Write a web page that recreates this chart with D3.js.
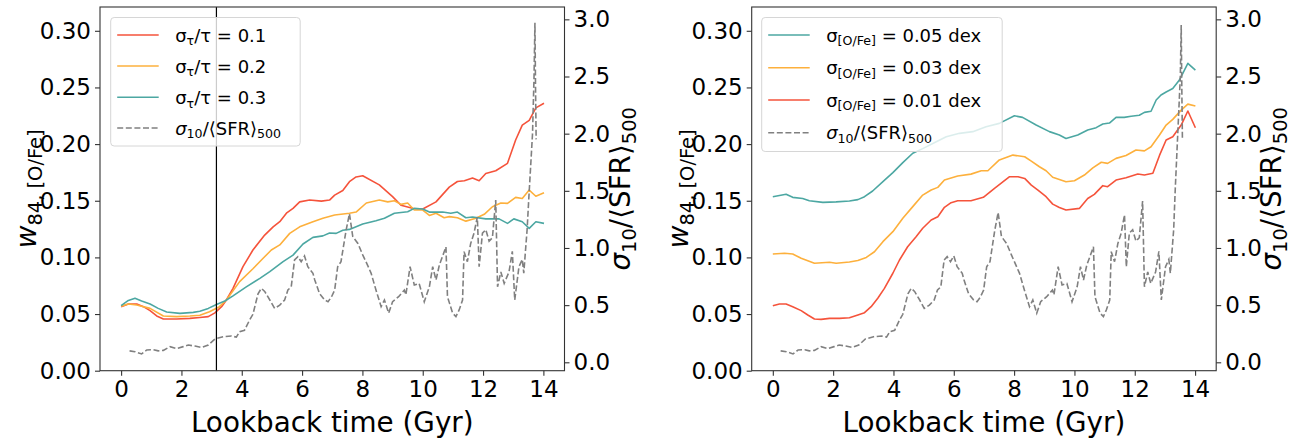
<!DOCTYPE html>
<html>
<head>
<meta charset="utf-8">
<script src="https://cdn.jsdelivr.net/npm/d3@7"></script>
<style>
  body { margin: 0; background: #fff; }
  svg { font-family: "DejaVu Sans", sans-serif; }
</style>
</head>
<body>
<div id="chart"></div>
<script>
// [lookback time (Gyr), w84 [O/Fe]]
var tau01 = [[0,0.0565],[0.24,0.0588],[0.52,0.0588],[0.74,0.0565],[0.96,0.053],[1.18,0.0483],[1.4,0.0456],[1.84,0.0456],[2.28,0.0462],[2.61,0.047],[2.89,0.0477],[3.11,0.051],[3.33,0.0565],[3.49,0.0624],[3.71,0.0727],[4.04,0.0918],[4.37,0.1065],[4.76,0.1197],[5.04,0.127],[5.26,0.1315],[5.48,0.139],[5.7,0.1433],[5.92,0.149],[6.25,0.1506],[6.64,0.1497],[6.91,0.1506],[7.08,0.155],[7.35,0.159],[7.57,0.1668],[7.79,0.171],[8.01,0.172],[8.56,0.164],[9.0,0.1536],[9.28,0.146],[9.72,0.143],[10.0,0.1427],[10.44,0.149],[10.88,0.162],[11.15,0.167],[11.38,0.1677],[11.65,0.17],[11.87,0.1677],[12.09,0.174],[12.42,0.1765],[12.81,0.183],[13.08,0.2036],[13.3,0.2168],[13.53,0.221],[13.75,0.232],[14.02,0.236]];
var tau02 = [[0,0.057],[0.24,0.0588],[0.52,0.058],[0.96,0.055],[1.4,0.0483],[1.84,0.0477],[2.28,0.0483],[2.61,0.049],[2.93,0.052],[3.26,0.0565],[3.49,0.0624],[3.93,0.0786],[4.37,0.09],[4.7,0.099],[4.98,0.1065],[5.26,0.111],[5.59,0.1212],[5.92,0.127],[6.36,0.1315],[6.69,0.1345],[7.08,0.1374],[7.57,0.139],[7.79,0.14],[8.13,0.148],[8.56,0.1506],[8.84,0.149],[9.06,0.15],[9.28,0.1468],[9.5,0.148],[9.72,0.1418],[10.0,0.1418],[10.22,0.137],[10.44,0.139],[10.71,0.135],[10.88,0.136],[11.15,0.135],[11.43,0.132],[11.76,0.1345],[12.04,0.138],[12.31,0.1447],[12.59,0.148],[12.81,0.1477],[13.08,0.153],[13.3,0.152],[13.53,0.1594],[13.75,0.154],[14.02,0.157]];
var tau03 = [[0,0.0574],[0.24,0.062],[0.46,0.0639],[0.68,0.0615],[0.96,0.0588],[1.23,0.055],[1.51,0.0518],[1.95,0.0506],[2.39,0.0515],[2.61,0.0524],[2.89,0.055],[3.16,0.0585],[3.44,0.0615],[3.71,0.066],[4.15,0.074],[4.6,0.0815],[4.93,0.0874],[5.37,0.0962],[5.7,0.102],[6.03,0.1118],[6.36,0.1177],[6.69,0.119],[6.91,0.1215],[7.13,0.1212],[7.35,0.124],[7.57,0.1247],[8.01,0.1294],[8.45,0.1324],[8.73,0.1345],[9.06,0.139],[9.5,0.1403],[9.72,0.1433],[10.0,0.1427],[10.22,0.14],[10.66,0.14],[10.93,0.139],[11.15,0.14],[11.43,0.135],[11.65,0.1356],[12.09,0.134],[12.53,0.134],[12.81,0.13],[13.02,0.134],[13.3,0.1315],[13.53,0.1256],[13.75,0.1315],[14.02,0.13]];

var ofe005 = [[0,0.1536],[0.44,0.1557],[0.66,0.153],[0.99,0.152],[1.21,0.15],[1.66,0.1486],[2.1,0.149],[2.54,0.1498],[2.82,0.151],[3.04,0.1536],[3.31,0.1586],[3.65,0.1668],[3.98,0.1748],[4.31,0.1836],[4.64,0.1919],[4.97,0.196],[5.42,0.202],[5.75,0.2065],[6.19,0.2095],[6.63,0.211],[7.07,0.2153],[7.51,0.2183],[8.01,0.225],[8.28,0.2236],[8.73,0.2168],[9.17,0.211],[9.5,0.208],[9.72,0.205],[10.11,0.208],[10.44,0.2124],[10.72,0.2145],[10.94,0.2177],[11.16,0.2186],[11.38,0.2236],[11.65,0.2236],[11.88,0.2246],[12.15,0.2254],[12.32,0.228],[12.54,0.229],[12.71,0.2389],[12.87,0.2433],[13.04,0.246],[13.26,0.249],[13.48,0.2565],[13.76,0.2713],[14.01,0.2653]];
var ofe003 = [[0,0.103],[0.39,0.1036],[0.66,0.103],[0.94,0.0992],[1.38,0.0948],[1.88,0.0957],[2.1,0.0948],[2.54,0.096],[2.82,0.0972],[3.1,0.1],[3.37,0.105],[3.65,0.1139],[3.98,0.1227],[4.31,0.1345],[4.64,0.1448],[4.97,0.155],[5.25,0.1595],[5.47,0.1618],[5.69,0.1683],[6.13,0.1718],[6.57,0.1735],[6.91,0.1765],[7.13,0.1765],[7.51,0.186],[7.96,0.1903],[8.35,0.1888],[8.57,0.185],[8.84,0.18],[9.06,0.1765],[9.28,0.1707],[9.72,0.1668],[10.0,0.1677],[10.33,0.1727],[10.61,0.179],[10.89,0.184],[11.1,0.183],[11.38,0.1874],[11.71,0.19],[12.04,0.1948],[12.32,0.194],[12.54,0.1977],[12.82,0.208],[13.04,0.2168],[13.26,0.2218],[13.54,0.23],[13.76,0.2353],[14.01,0.2336]];
var ofe001 = [[0,0.0574],[0.22,0.0589],[0.44,0.0589],[0.66,0.0565],[0.94,0.053],[1.16,0.0492],[1.38,0.0456],[1.6,0.0453],[1.88,0.0462],[2.21,0.0462],[2.54,0.0468],[2.82,0.0492],[3.04,0.0512],[3.26,0.0565],[3.48,0.0639],[3.7,0.0727],[3.98,0.086],[4.2,0.0977],[4.47,0.1094],[4.75,0.1183],[4.97,0.1257],[5.25,0.133],[5.47,0.1359],[5.69,0.1442],[5.91,0.1483],[6.13,0.15],[6.57,0.15],[6.98,0.153],[7.35,0.161],[7.85,0.1712],[8.13,0.1712],[8.35,0.1697],[8.57,0.1638],[8.79,0.1594],[9.06,0.1536],[9.28,0.147],[9.5,0.144],[9.72,0.1418],[10.17,0.1433],[10.44,0.152],[10.66,0.1556],[10.94,0.1633],[11.1,0.1624],[11.38,0.1683],[11.71,0.1703],[12.1,0.1736],[12.32,0.1727],[12.6,0.1742],[12.82,0.19],[13.04,0.2036],[13.26,0.2065],[13.54,0.2168],[13.76,0.2292],[14.01,0.2144]];

// [lookback time (Gyr), sigma10/<SFR>500] (right axis)
var sfrLeft = [[0.28,0.1],[0.46,0.093],[0.68,0.073],[0.85,0.108],[1.07,0.11],[1.23,0.1],[1.4,0.104],[1.62,0.137],[1.84,0.12],[2.06,0.137],[2.23,0.151],[2.45,0.142],[2.67,0.13],[2.89,0.151],[3.11,0.204],[3.38,0.224],[3.66,0.23],[3.82,0.22],[3.93,0.268],[4.09,0.28],[4.26,0.37],[4.37,0.42],[4.54,0.6],[4.65,0.647],[4.76,0.62],[4.93,0.545],[5.09,0.472],[5.26,0.5],[5.42,0.545],[5.53,0.632],[5.64,0.66],[5.75,0.895],[5.86,0.924],[5.97,0.88],[6.08,0.93],[6.19,0.837],[6.36,0.778],[6.42,0.72],[6.58,0.6],[6.75,0.545],[6.86,0.53],[6.97,0.57],[7.08,0.632],[7.18,0.836],[7.29,0.88],[7.46,1.157],[7.57,1.3],[7.68,1.1],[7.85,1.04],[8.01,0.94],[8.17,0.85],[8.29,0.778],[8.45,0.632],[8.62,0.487],[8.73,0.545],[8.87,0.43],[9.0,0.53],[9.2,0.574],[9.39,0.632],[9.44,0.59],[9.58,0.836],[9.72,0.676],[9.88,0.69],[10.05,0.53],[10.22,0.66],[10.33,0.836],[10.44,0.72],[10.55,0.85],[10.77,1.01],[10.82,0.574],[10.99,0.43],[11.1,0.4],[11.21,0.46],[11.32,0.545],[11.37,0.968],[11.48,0.88],[11.59,1.04],[11.7,1.13],[11.81,1.27],[11.87,0.836],[11.98,1.13],[12.09,1.16],[12.2,1.06],[12.31,1.09],[12.42,1.42],[12.48,0.66],[12.59,0.79],[12.7,0.69],[12.86,0.79],[12.97,0.97],[13.05,0.545],[13.19,0.836],[13.3,0.9],[13.35,0.78],[13.46,1.16],[13.52,1.45],[13.64,2.0],[13.69,2.5],[13.72,2.97],[13.74,2.4],[13.76,1.95]];
var sfrRight = [[0.26,0.1],[0.45,0.093],[0.67,0.073],[0.84,0.108],[1.06,0.11],[1.21,0.1],[1.38,0.104],[1.6,0.137],[1.82,0.12],[2.03,0.137],[2.2,0.151],[2.42,0.142],[2.64,0.13],[2.85,0.151],[3.07,0.204],[3.34,0.224],[3.61,0.23],[3.77,0.22],[3.88,0.268],[4.04,0.28],[4.2,0.37],[4.31,0.42],[4.48,0.6],[4.59,0.647],[4.7,0.62],[4.87,0.545],[5.02,0.472],[5.19,0.5],[5.35,0.545],[5.46,0.632],[5.57,0.66],[5.68,0.895],[5.78,0.924],[5.89,0.88],[6.0,0.93],[6.11,0.837],[6.28,0.778],[6.34,0.72],[6.49,0.6],[6.66,0.545],[6.77,0.53],[6.88,0.57],[6.99,0.632],[7.09,0.836],[7.2,0.88],[7.36,1.157],[7.47,1.31],[7.58,1.1],[7.75,1.04],[7.91,0.94],[8.06,0.85],[8.18,0.778],[8.34,0.632],[8.51,0.487],[8.62,0.545],[8.75,0.43],[8.88,0.53],[9.08,0.574],[9.27,0.632],[9.32,0.59],[9.46,0.836],[9.59,0.676],[9.75,0.69],[9.92,0.53],[10.09,0.66],[10.2,0.836],[10.3,0.72],[10.41,0.85],[10.63,1.01],[10.68,0.574],[10.85,0.43],[10.96,0.4],[11.06,0.46],[11.17,0.545],[11.22,0.968],[11.33,0.88],[11.44,1.04],[11.55,1.13],[11.66,1.29],[11.72,0.836],[11.82,1.13],[11.93,1.16],[12.04,1.06],[12.15,1.09],[12.26,1.41],[12.32,0.66],[12.43,0.79],[12.53,0.69],[12.69,0.79],[12.8,0.97],[12.88,0.545],[13.02,0.836],[13.13,0.9],[13.18,0.78],[13.29,1.16],[13.34,1.5],[13.46,2.2],[13.51,2.5],[13.54,2.95],[13.56,2.4],[13.58,1.95]];

var yTicksLeft = [0, 0.05, 0.10, 0.15, 0.20, 0.25, 0.30];
var yTicksRight = [0, 0.5, 1.0, 1.5, 2.0, 2.5, 3.0];
var xTicks = [0, 2, 4, 6, 8, 10, 12, 14];
var markerTime = 3.16;

var colRed = "#f5533b", colOrange = "#fdb03c", colTeal = "#4ca7a2", colGrey = "#808080";

var W = 1306, H = 446;
var tickFs = 23, labelFs = 27.8, legFs = 18;

var svg = d3.select("#chart").append("svg")
  .attr("width", W).attr("height", H);

// writes a list of text parts, sub parts shifted down and shrunk
function richText(text, parts, fs) {
  var back = 0;
  parts.forEach(function (p) {
    var ts = text.append("tspan").text(p.t);
    if (p.it) ts.attr("font-style", "italic");
    if (p.sub) {
      ts.attr("font-size", fs * 0.7).attr("dy", fs * 0.22 - back);
      back = fs * 0.22;
    } else if (back) {
      ts.attr("dy", -back);
      back = 0;
    }
  });
}

function panel(opt) {
  var x0 = opt.left, x1 = opt.left + 464.5, y0 = 7, y1 = 370.7;

  var x = d3.scaleLinear().domain([-0.7, 14.7]).range([x0, x1]);
  var y = d3.scaleLinear().domain([0, 0.321]).range([y1, y0]);
  var y2 = d3.scaleLinear().domain([-0.0735, 3.108]).range([y1, y0]);

  var g = svg.append("g");

  var line = d3.line().x(function (d) { return x(d[0]); }).y(function (d) { return y(d[1]); });
  var line2 = d3.line().x(function (d) { return x(d[0]); }).y(function (d) { return y2(d[1]); });

  opt.series.forEach(function (s) {
    g.append("path").datum(s.data)
      .attr("d", line)
      .attr("fill", "none")
      .attr("stroke", s.color)
      .attr("stroke-width", 1.6)
      .attr("stroke-linejoin", "round");
  });

  g.append("path").datum(opt.sfr)
    .attr("d", line2)
    .attr("fill", "none")
    .attr("stroke", colGrey)
    .attr("stroke-width", 1.6)
    .attr("stroke-dasharray", "6,2.6");

  if (opt.vline != null) {
    g.append("line")
      .attr("x1", x(opt.vline)).attr("x2", x(opt.vline))
      .attr("y1", y0).attr("y2", y1)
      .attr("stroke", "#000").attr("stroke-width", 1.2);
  }

  // axes
  var ax = g.append("g").attr("transform", "translate(0," + y1 + ")")
    .call(d3.axisBottom(x).tickValues(xTicks).tickSize(5).tickPadding(5).tickFormat(d3.format("d")));
  var ayl = g.append("g").attr("transform", "translate(" + x0 + ",0)")
    .call(d3.axisLeft(y).tickValues(yTicksLeft).tickSize(5).tickPadding(4).tickFormat(d3.format(".2f")));
  var ayr = g.append("g").attr("transform", "translate(" + x1 + ",0)")
    .call(d3.axisRight(y2).tickValues(yTicksRight).tickSize(5).tickPadding(4).tickFormat(d3.format(".1f")));
  [ax, ayl, ayr].forEach(function (a) {
    a.select(".domain").remove();
    a.selectAll("line").attr("stroke", "#333").attr("stroke-width", 1.1);
    a.selectAll("text").attr("font-size", tickFs).attr("font-family", "DejaVu Sans").attr("fill", "#000");
  });
  g.append("rect")
    .attr("x", x0).attr("y", y0).attr("width", x1 - x0).attr("height", y1 - y0)
    .attr("fill", "none").attr("stroke", "#333").attr("stroke-width", 1.1);

  // axis labels
  g.append("text")
    .attr("x", (x0 + x1) / 2).attr("y", 432)
    .attr("text-anchor", "middle").attr("font-size", labelFs)
    .text("Lookback time (Gyr)");

  var yl = g.append("text")
    .attr("transform", "translate(" + (x0 - 64) + "," + ((y0 + y1) / 2) + ") rotate(-90)")
    .attr("text-anchor", "middle").attr("font-size", labelFs);
  richText(yl, [{ t: "w", it: true }, { t: "84, [O/Fe]", sub: true }], labelFs);

  var yr = g.append("text")
    .attr("transform", "translate(" + (x1 + 65) + "," + ((y0 + y1) / 2) + ") rotate(-90)")
    .attr("text-anchor", "middle").attr("font-size", labelFs);
  richText(yr, [{ t: "\u03c3", it: true }, { t: "10", sub: true }, { t: "/\u27e8SFR\u27e9" }, { t: "500", sub: true }], labelFs);

  // legend
  var L = opt.legend;
  var lg = g.append("g");
  lg.append("rect")
    .attr("x", x0 + L.dx).attr("y", 17.5).attr("width", L.w).attr("height", L.h)
    .attr("rx", 3.5)
    .attr("fill", "#fff").attr("fill-opacity", 0.8)
    .attr("stroke", "#d6d6d6").attr("stroke-width", 1);
  L.items.forEach(function (it, i) {
    var cy = L.rows[i];
    lg.append("line")
      .attr("x1", x0 + L.dx + 6.5).attr("x2", x0 + L.dx + 48)
      .attr("y1", cy).attr("y2", cy)
      .attr("stroke", it.color).attr("stroke-width", 1.6)
      .attr("stroke-dasharray", it.dash ? "6,2.6" : null);
    var t = lg.append("text")
      .attr("x", x0 + L.dx + 64.5).attr("y", cy + 6.5)
      .attr("font-size", legFs);
    richText(t, it.parts, legFs);
  });
}

var sfrItem = { color: colGrey, dash: true, parts: [{ t: "\u03c3", it: true }, { t: "10", sub: true }, { t: "/\u27e8SFR\u27e9" }, { t: "500", sub: true }] };

panel({
  left: 100,
  series: [{ data: tau01, color: colRed }, { data: tau02, color: colOrange }, { data: tau03, color: colTeal }],
  sfr: sfrLeft,
  vline: markerTime,
  legend: {
    dx: 10.7, w: 189.5, h: 128.5, rows: [35, 66, 97.3, 128],
    items: [
      { color: colRed, parts: [{ t: "\u03c3" }, { t: "\u03c4", sub: true }, { t: "/\u03c4 = 0.1" }] },
      { color: colOrange, parts: [{ t: "\u03c3" }, { t: "\u03c4", sub: true }, { t: "/\u03c4 = 0.2" }] },
      { color: colTeal, parts: [{ t: "\u03c3" }, { t: "\u03c4", sub: true }, { t: "/\u03c4 = 0.3" }] },
      sfrItem
    ]
  }
});

panel({
  left: 751.7,
  series: [{ data: ofe005, color: colTeal }, { data: ofe003, color: colOrange }, { data: ofe001, color: colRed }],
  sfr: sfrRight,
  vline: null,
  legend: {
    dx: 10, w: 240.5, h: 134, rows: [35, 67.7, 100, 132.7],
    items: [
      { color: colTeal, parts: [{ t: "\u03c3" }, { t: "[O/Fe]", sub: true }, { t: " = 0.05 dex" }] },
      { color: colOrange, parts: [{ t: "\u03c3" }, { t: "[O/Fe]", sub: true }, { t: " = 0.03 dex" }] },
      { color: colRed, parts: [{ t: "\u03c3" }, { t: "[O/Fe]", sub: true }, { t: " = 0.01 dex" }] },
      sfrItem
    ]
  }
});
</script>
</body>
</html>
